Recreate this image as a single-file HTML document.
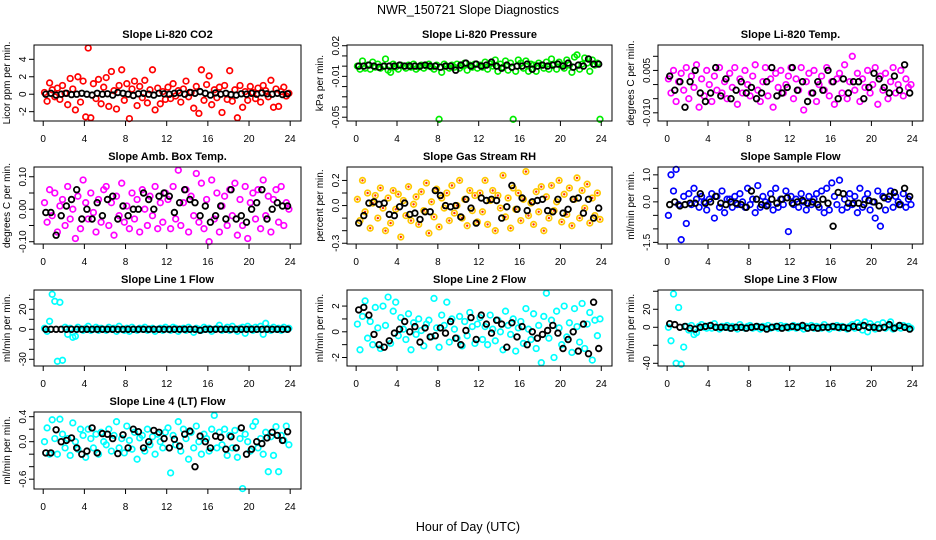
<!DOCTYPE html>
<html><head><meta charset="utf-8"><title>NWR_150721 Slope Diagnostics</title>
<style>
html,body{margin:0;padding:0;background:#fff;}
svg{display:block;font-family:"Liberation Sans",Arial,sans-serif;}
</style></head>
<body>
<svg id="chart" width="936" height="540" viewBox="0 0 936 540" xmlns="http://www.w3.org/2000/svg">
<rect width="936" height="540" fill="#fff"/>
<text x="468" y="14" font-size="12.5" text-anchor="middle">NWR_150721  Slope Diagnostics</text>
<text x="468" y="531" font-size="12.5" text-anchor="middle">Hour of Day (UTC)</text>
</svg>
<script>
// ---------- data ----------
const xTicks = [0,4,8,12,16,20,24];

const co2Color = [0.2,-0.8,1.3,0.5,-0.3,0.7,-0.6,1.0,0.1,-1.2,1.8,0.6,-1.8,2.0,-0.9,1.5,-2.6,5.3,-2.7,1.2,-0.5,1.7,-1.1,0.8,
1.9,-1.4,2.6,0.4,-1.7,1.0,2.8,-0.7,1.2,-2.8,0.6,1.5,-1.3,0.9,-0.4,1.6,-1.0,0.5,2.8,-1.8,0.7,-1.1,0.3,-0.6,
0.8,-0.5,1.2,-0.2,0.4,-0.9,0.6,1.5,-0.3,0.2,-1.6,0.9,-2.2,2.8,-0.7,1.1,2.1,-1.2,0.5,-0.4,0.8,-2.1,1.0,-0.6,
2.7,-0.8,0.5,-2.7,1.0,-1.5,0.3,-0.7,0.9,0.2,-0.5,0.7,-0.9,1.0,0.4,-0.3,1.6,-1.5,0.6,-1.4,0.3,0.8,-0.2,0.1];
const co2Black = [0,0.1,-0.1,0,0.1,-0.05,0,0.1,0,-0.1,0.1,0,0.05,-0.1,0.2,0.1,0,-0.15,0.05,0.1,0,-0.1,0.1,0.05,0,0.1,0.15,0,0.2,0.1,0.3,0.1,-0.1,0.15,0,0.1,-0.05,-0.1,0.05,0,0.1,0,0.15,0.05,0,0.1,-0.05,0.05];

const presColor = [0,-0.003,0.005,-0.002,0.001,-0.003,0.004,-0.001,0.002,-0.002,0,0.007,-0.004,-0.006,0.002,-0.001,-0.003,0.001,0,-0.002,0.001,-0.001,0.002,-0.003,
-0.001,0.001,-0.002,0,0.002,-0.001,-0.003,0.001,-0.052,-0.006,0.002,0,-0.002,0.001,-0.001,0.002,-0.002,0,0.003,-0.004,0.001,-0.001,0.002,-0.002,
0.001,-0.001,0.004,-0.003,0.002,0,0.006,-0.005,0.002,-0.001,0.005,-0.004,0.003,-0.052,-0.005,0.006,0.003,-0.002,0.005,-0.005,0.002,0.001,-0.005,0.003,
0.001,-0.002,0.004,-0.003,0.007,0.002,-0.003,0.004,0.001,-0.002,0.006,0.001,-0.006,0.009,0.011,-0.003,0.002,0.008,0.003,-0.005,0.006,0.001,0.003,-0.052];
const presBlack = [0,0,0.001,0,-0.001,0,0,0,0.001,0,0,0,0,0.001,0,0,-0.001,0,0,-0.004,0.001,0.003,0,0.002,0,0.001,0.004,0,-0.002,0.001,-0.001,0,0,0.002,-0.003,0,0.001,0,0.001,0.002,0,0.003,-0.001,0.001,0,0.007,0.002,0.002];

const tempColor = [0.002,-0.003,0.005,-0.006,0.001,0.004,-0.002,0.006,-0.005,0.003,-0.001,0.007,-0.008,0.002,-0.004,0.005,0,-0.006,0.003,-0.002,0.006,-0.003,0.001,-0.005,
0.004,-0.001,0.006,-0.007,0.002,-0.003,0.005,0,-0.004,0.003,0.007,-0.002,-0.006,0.001,0.006,-0.004,0.002,-0.008,0.004,-0.001,0.005,-0.003,0,0.003,
0.006,-0.005,0.002,-0.002,0.006,-0.009,0.001,0.004,-0.003,0.005,-0.006,0,0.003,-0.002,0.006,-0.004,0.001,-0.007,0.002,0.004,-0.003,0.007,-0.005,0.001,
0.010,-0.002,0.004,-0.006,0.002,-0.001,0.005,-0.003,0,0.006,-0.007,0.003,-0.002,0.004,-0.005,0.001,0.006,-0.003,0,0.005,-0.004,0.002,-0.001,0];
const tempBlack = [0.003,-0.002,0.001,-0.008,0.001,0.005,-0.003,-0.006,-0.003,0.006,-0.004,0.002,-0.005,-0.002,0.001,-0.003,-0.001,-0.005,-0.003,0.001,0.006,-0.004,-0.003,-0.001,0.006,-0.002,0.001,-0.006,-0.003,0.001,-0.002,0.005,0.001,-0.005,0.002,-0.003,0.001,0.001,-0.005,-0.001,0.004,0.002,-0.001,-0.003,0.003,-0.002,0.007,-0.003];

const ambColor = [0.02,-0.04,0.06,-0.02,0.05,-0.07,0.01,0.03,-0.05,0.07,-0.03,0.0,-0.09,0.04,-0.06,0.09,0.02,-0.03,0.05,-0.01,-0.07,0.03,-0.04,0.06,
0.07,-0.05,0.02,-0.08,0.04,-0.02,0.08,-0.04,0.01,-0.06,0.05,-0.03,0.03,-0.07,0.06,0.0,-0.05,0.04,-0.02,0.07,-0.06,0.02,-0.04,0.05,
0.03,-0.06,0.07,-0.03,0.12,-0.05,0.02,0.06,-0.07,0.04,-0.02,0.11,-0.04,0.08,-0.06,0.03,-0.10,0.09,-0.03,0.05,-0.07,0.01,0.04,-0.05,
0.06,-0.02,0.08,-0.08,0.03,-0.05,0.07,-0.09,0.02,0.05,-0.03,0.06,-0.06,0.09,-0.02,0.04,-0.07,0.03,0.06,-0.04,0.07,-0.05,0.02,0.0];
const ambBlack = [-0.01,-0.01,-0.08,-0.02,0.01,0.03,0.06,-0.03,0.0,-0.03,0.02,-0.02,0.03,0.04,-0.03,0.01,-0.02,0.0,0.0,0.05,0.03,0.0,0.04,0.05,0.04,-0.01,0.02,0.06,0.03,0.02,-0.02,0.01,-0.04,-0.02,0.01,-0.03,0.06,-0.03,-0.02,-0.04,0.0,0.02,0.06,-0.03,0.0,0.02,0.01,0.01];

const rhColor = [0.05,-0.12,0.20,-0.05,0.10,-0.18,0.02,0.08,-0.10,0.14,-0.02,-0.20,0.06,-0.14,0.12,-0.03,0.09,-0.25,0.04,-0.08,0.15,-0.12,0.01,0.07,
-0.15,0.11,-0.04,0.18,-0.22,0.03,-0.09,0.13,-0.17,0.06,-0.02,0.10,-0.12,0.16,-0.06,0.0,0.20,-0.10,0.05,-0.16,0.12,-0.04,0.08,-0.13,
0.10,-0.05,0.20,-0.15,0.04,0.12,-0.20,0.08,-0.02,0.24,-0.09,0.06,-0.18,0.14,-0.03,0.10,-0.12,0.05,0.27,-0.08,0.02,-0.15,0.11,-0.05,
0.15,-0.20,0.07,-0.10,0.16,-0.04,0.03,0.20,-0.13,0.09,-0.07,0.14,-0.16,0.05,0.22,-0.10,0.12,-0.02,0.17,-0.14,0.06,-0.08,0.10,-0.11];
const rhBlack = [-0.14,-0.08,0.02,0.03,0.01,0.02,-0.07,-0.08,-0.01,0.02,-0.07,-0.06,-0.11,-0.05,-0.05,0.12,0.08,0.0,-0.01,0.0,-0.09,0.05,-0.02,-0.14,0.06,0.04,0.05,0.04,-0.10,-0.01,0.16,-0.03,0.06,-0.04,0.03,0.04,0.05,-0.04,-0.05,0.05,-0.06,-0.03,0.05,0.06,-0.06,0.05,-0.10,-0.02];

const sampColor = [-0.5,1.0,0.4,1.2,-0.1,-1.4,0.2,-0.8,0.3,-0.1,0.5,0.1,-0.2,0.2,0,-0.3,0.1,0.3,-0.6,0.2,-0.2,0.4,-0.4,0.1,
0.1,-0.2,0.2,-0.1,0.3,0,-0.2,0.5,-0.1,0.1,-0.4,0.6,-0.2,0.2,0,-0.1,0.3,-0.3,0.5,-0.2,0.1,-0.1,0.4,-1.1,
0.2,-0.1,0.1,-0.2,0.3,0,-0.3,0.2,-0.1,0.1,0.3,-0.2,0.4,-0.4,0.5,-0.3,0.7,0.2,-0.1,0.8,-0.3,0.1,-0.2,0.3,
-0.1,0.2,-0.4,0.5,-0.2,0.1,0.3,-0.3,0,-0.6,0.4,-0.9,0.2,-0.3,0.1,0.4,-0.2,0.2,0,-0.1,0.3,-0.2,0.1,-0.1];
const sampBlack = [-0.1,0.0,-0.15,-0.1,-0.05,-0.05,0.3,-0.05,0.0,0.2,-0.05,-0.1,0.0,-0.05,-0.1,-0.2,0.4,0.1,-0.1,-0.15,0.1,-0.05,0.1,0.15,-0.05,0.0,0.05,-0.05,0.0,-0.1,0.1,-0.05,-0.9,0.35,0.3,-0.05,-0.05,-0.05,-0.1,0.05,0.0,-0.15,0.15,0.2,0.35,-0.1,0.5,0.2];

const l1Color = [1,-2,8,35,28,-32,27,-31,2,-5,1,-8,-7,2,0,-1,1,3,-1,0,2,-1,1,0,
-1,2,0,1,-2,3,0,-1,1,-2,2,0,-1,1,0,2,-1,0,1,-2,0,1,-1,2,
0,-1,2,1,-2,0,1,-1,2,0,-3,1,0,-1,2,0,1,-2,0,1,4,-1,0,2,
-1,3,0,-2,1,2,-4,3,1,-1,2,0,3,-5,6,1,-1,2,0,1,-1,2,0,1];
const l1Black = [0,0,0,0,0,0,0,0,0,0,0,0,0,0,0,0,0,0,0,0,0,0,0,0,0,0,0,0,0,0,-1,0,0,0,0,0,0,0,0,0,0,0,0,0,0,0,0,0];

const l2Color = [0.6,-1.4,1.2,2.4,-0.5,0.8,-1.0,1.9,0.3,-1.3,2.0,0.5,2.7,-0.9,1.6,2.3,-0.3,1.1,0.2,-0.6,1.4,-1.4,0.7,-0.2,
1.0,0.1,-1.1,0.6,0.9,-0.4,2.6,0.3,-1.2,1.3,0.5,2.3,-0.8,1.0,0.2,-0.5,1.2,-1.1,0.8,-0.3,1.5,0.4,-0.9,0.6,
1.1,-0.6,0.4,-1.0,1.3,0.2,-0.7,0.9,0.0,-1.4,1.6,0.5,-0.2,1.0,-1.5,0.3,0.8,-0.9,1.8,0.2,-0.6,1.4,-1.3,0.5,
-2.4,1.2,3.0,-0.5,0.9,-2.0,1.6,0.3,-1.0,2.0,-0.4,0.7,-1.6,1.8,0.4,-0.8,2.2,-1.3,0.6,1.5,-2.2,0.9,-0.3,1.0];
const l2Black = [1.7,1.9,1.3,-0.2,-1.0,-1.2,-0.7,-0.1,0.2,0.8,0.0,0.4,-0.8,0.3,-0.4,-0.3,0.3,-0.1,0.8,-0.5,-1.0,0.1,1.1,-0.6,1.3,0.6,-0.1,0.9,0.6,-1.2,0.7,-0.4,0.4,-1.0,0.0,-0.5,-0.2,0.1,0.5,-0.1,-1.3,-0.6,0.0,-1.5,0.6,-1.7,2.3,-1.3];

const l3Color = [0,-15,37,-40,22,-41,-22,1,-3,2,-8,-6,1,3,0,-1,2,-1,4,0,-2,1,0,2,
-1,1,0,-2,3,0,-1,1,2,-1,0,1,-2,1,0,2,-1,0,1,-1,2,0,1,-1,
0,2,-1,1,0,-2,1,0,2,-1,1,0,-1,3,0,-2,1,0,2,-1,1,0,-2,1,
3,-1,5,2,-3,6,-5,4,1,-2,3,0,5,-1,2,6,-2,0,1,-1,2,0,1,-1];
const l3Black = [4,3,0,1,-1,-2,0,1,2,0,0,0,-1,0,0,-1,0,1,0,-2,0,1,-1,0,1,0,2,-1,0,-1,0,0,1,0,0,-1,1,0,2,0,0,-1,0,3,-1,2,0,-2];

const l4Color = [0.0,0.22,-0.2,0.35,0.05,-0.2,0.36,0.12,-0.1,0.05,-0.22,0.3,0.0,-0.12,0.2,0.1,-0.25,0.2,0.05,-0.1,0.12,-0.2,0.15,0.0,
-0.05,0.2,-0.15,0.1,0.32,-0.1,0.05,-0.18,0.25,0.02,-0.12,0.15,-0.28,0.06,0.1,-0.15,0.2,-0.05,0.08,-0.2,0.12,0.0,-0.1,0.15,
0.22,-0.5,0.1,-0.05,0.32,-0.15,0.2,0.05,-0.28,0.15,-0.1,0.25,0.0,-0.2,0.12,0.05,-0.15,0.2,0.42,-0.1,0.15,-0.05,0.2,-0.22,
0.1,-0.1,0.18,-0.25,0.05,-0.75,0.12,0.0,-0.15,0.25,0.32,-0.1,0.05,-0.2,0.15,-0.48,0.08,-0.22,0.24,-0.48,0.1,0.02,0.25,-0.05];
const l4Black = [-0.18,-0.18,0.19,0.0,0.02,0.06,-0.1,-0.2,-0.15,0.22,-0.18,0.13,0.12,0.05,-0.19,0.11,-0.1,0.2,0.16,-0.1,0.0,0.18,0.15,0.05,-0.1,0.04,-0.07,0.12,0.17,-0.4,0.09,0.0,-0.1,0.09,0.07,-0.12,0.08,-0.1,0.22,-0.2,-0.12,0.0,-0.03,0.06,0.15,0.1,0.02,0.16];

// ---------- layout ----------
const panels = [
 {key:'co2', title:'Slope Li-820 CO2', ylab:'Licor ppm per min.', c:co2Color, b:co2Black, color:'#ff0000', L:34,R:301,T:45,B:121, ymin:-3.07,ymax:5.64, yt:[-2,0,2,4], yl:['-2','0','2','4']},
 {key:'pressure', title:'Slope Li-820 Pressure', ylab:'kPa per min.', c:presColor, b:presBlack, color:'#00ee00', L:347,R:612,T:45,B:121, ymin:-0.0537,ymax:0.0207, yt:[0.02,0.01,0,-0.01,-0.02,-0.03,-0.04,-0.05], yl:['0.02','','','-0.01','','','','-0.05']},
 {key:'li820-temp', title:'Slope Li-820 Temp.', ylab:'degrees C per min.', c:tempColor, b:tempBlack, color:'#ff00ff', L:658,R:923,T:45,B:121, ymin:-0.0129,ymax:0.014, yt:[0.01,0.005,0,-0.005,-0.01], yl:['','0.005','','','-0.010']},
 {key:'amb-box-temp', title:'Slope Amb. Box Temp.', ylab:'degrees C per min.', c:ambColor, b:ambBlack, color:'#ff00ff', L:34,R:301,T:167,B:244, ymin:-0.107,ymax:0.13, yt:[0.1,0.05,0,-0.05,-0.1], yl:['0.10','','0.00','','-0.10']},
 {key:'gas-rh', title:'Slope Gas Stream RH', ylab:'percent per min.', c:rhColor, b:rhBlack, color:'#ffc800', inner:'#ff3000', L:347,R:612,T:167,B:244, ymin:-0.306,ymax:0.307, yt:[0.2,0.1,0,-0.1,-0.2,-0.3], yl:['0.2','','0.0','','','-0.3']},
 {key:'sample-flow', title:'Slope Sample Flow', ylab:'ml/min per min.', c:sampColor, b:sampBlack, color:'#0000ff', L:658,R:923,T:167,B:244, ymin:-1.56,ymax:1.29, yt:[1,0.5,0,-0.5,-1,-1.5], yl:['1.0','','0.0','','','-1.5']},
 {key:'line1-flow', title:'Slope Line 1 Flow', ylab:'ml/min per min.', c:l1Color, b:l1Black, color:'#00ffff', L:34,R:301,T:290,B:366, ymin:-36.7,ymax:39.3, yt:[30,20,10,0,-10,-20,-30], yl:['','20','','0','','','-30']},
 {key:'line2-flow', title:'Slope Line 2 Flow', ylab:'ml/min per min.', c:l2Color, b:l2Black, color:'#00ffff', L:347,R:612,T:290,B:366, ymin:-2.66,ymax:3.25, yt:[2,1,0,-1,-2], yl:['2','','0','','-2']},
 {key:'line3-flow', title:'Slope Line 3 Flow', ylab:'ml/min per min.', c:l3Color, b:l3Black, color:'#00ffff', L:658,R:923,T:290,B:366, ymin:-43,ymax:41.4, yt:[40,20,0,-20,-40], yl:['','20','0','','-40']},
 {key:'line4-flow', title:'Slope Line 4 (LT) Flow', ylab:'ml/min per min.', c:l4Color, b:l4Black, color:'#00ffff', L:34,R:301,T:412,B:489, ymin:-0.757,ymax:0.475, yt:[0.4,0.2,0,-0.2,-0.4,-0.6], yl:['0.4','','0.0','','','-0.6']}
];

const NS='http://www.w3.org/2000/svg';
const svg=document.getElementById('chart');
function mk(tag,attrs,parent){const e=document.createElementNS(NS,tag);for(const k in attrs)e.setAttribute(k,attrs[k]);(parent||svg).appendChild(e);return e;}

panels.forEach(p=>{
  const g=mk('g',{});
  
  
  // x scale: 0 -> L+9.2, 24 -> R-10.8 approx (R 4% padding)
  const x0=p.L+(p.R-p.L)*0.0345, x24=p.R-(p.R-p.L)*0.0405;
  const sx=h=>x0+(x24-x0)*h/24;
  const sy=v=>p.B-(v-p.ymin)/(p.ymax-p.ymin)*(p.B-p.T);
  // title
  const t=mk('text',{x:(p.L+p.R)/2,y:p.T-7,'font-size':'11','font-weight':'bold','text-anchor':'middle'},g);
  t.textContent=p.title;
  
  
  // y axis title
  const yx=p.L-24, ym=(p.T+p.B)/2;
  const ya=mk('text',{x:yx,y:ym,'font-size':'10','text-anchor':'middle',transform:`rotate(-90 ${yx} ${ym})`},g);
  ya.textContent=p.ylab;
  
  
  // colored points
  const n=p.c.length;
  p.c.forEach((v,i)=>{
    const h=(i+0.5)*24/n;
    const c=mk('circle',{cx:sx(h).toFixed(1),cy:sy(v).toFixed(1),r:2.8,fill:'none',stroke:p.color,'stroke-width':1.7},g);
    
    
    if(p.inner){
      const d=mk('circle',{cx:sx(h).toFixed(1),cy:sy(v).toFixed(1),r:1.2,fill:p.inner},g);
      
      
    }
  });
  // black points (hourly means)
  const m=p.b.length;
  p.b.forEach((v,i)=>{
    const h=(i+0.5)*24/m;
    const c=mk('circle',{cx:sx(h).toFixed(1),cy:sy(v).toFixed(1),r:2.8,fill:'none',stroke:'#000','stroke-width':1.8},g);
    
    
  });
  // box
  const bx=mk('rect',{x:p.L,y:p.T,width:p.R-p.L,height:p.B-p.T,fill:'none',stroke:'#000','stroke-width':1},g);
  
  
  // x ticks
  xTicks.forEach(h=>{
    const X=sx(h);
    mk('line',{x1:X,y1:p.B,x2:X,y2:p.B+5,stroke:'#000','stroke-width':1},g);
    const tl=mk('text',{x:X,y:p.B+21,'font-size':'10','text-anchor':'middle'},g);
    tl.textContent=String(h);
    
    
  });
  // y ticks
  p.yt.forEach((v,i)=>{
    const Y=sy(v);
    mk('line',{x1:p.L-5,y1:Y,x2:p.L,y2:Y,stroke:'#000','stroke-width':1},g);
    if(p.yl[i]){
      const lx=p.L-8;
      const tl=mk('text',{x:lx,y:Y,'font-size':'10','text-anchor':'middle',transform:`rotate(-90 ${lx} ${Y})`},g);
      tl.textContent=p.yl[i];
      
      
    }
  });
});
</script>
</body></html>
